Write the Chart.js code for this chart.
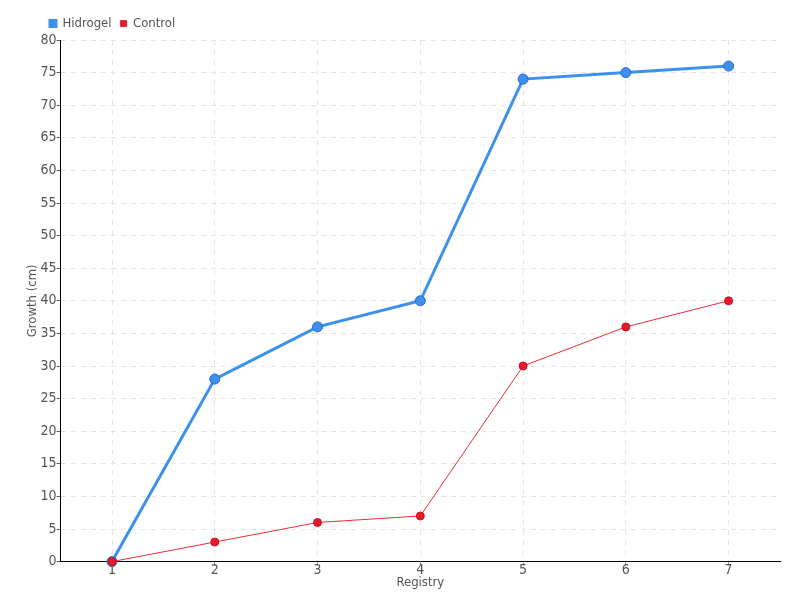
<!DOCTYPE html>
<html>
<head>
<meta charset="utf-8">
<script src="https://cdn.jsdelivr.net/npm/chart.js@4"></script>
<style>
  body { margin: 0; background: #fff; }
</style>
</head>
<body>
<canvas id="chart" width="800" height="600"></canvas>
<script>
// data
const registry = ['1', '2', '3', '4', '5', '6', '7'];
const hidrogel = [0, 28, 36, 40, 74, 75, 76];
const control = [0, 3, 6, 7, 30, 36, 40];

const font = "'DejaVu Sans Condensed', 'Liberation Sans Narrow', sans-serif";
Chart.defaults.font.family = font;
Chart.defaults.color = '#555';

// nudge the legend to the right, like the original
const legendShift = {
  id: 'legendShift',
  afterLayout(chart) {
    chart.legend.left += 16;
  },
};

new Chart(document.getElementById('chart'), {
  type: 'line',
  data: {
    labels: registry,
    datasets: [
      {
        label: 'Hidrogel',
        data: hidrogel,
        borderColor: '#3d90ec',
        backgroundColor: '#3d90ec',
        pointBackgroundColor: '#3d8ff0',
        pointBorderColor: '#2a6cc4',
        pointBorderWidth: 1,
        borderWidth: 3,
        pointRadius: 5,
        tension: 0,
        clip: false,
        order: 2,
      },
      {
        label: 'Control',
        data: control,
        borderColor: '#ee2a3a',
        backgroundColor: '#e8192c',
        pointBackgroundColor: '#e8192c',
        pointBorderColor: '#c81020',
        pointBorderWidth: 1,
        borderWidth: 1,
        pointRadius: 4,
        tension: 0,
        clip: false,
        order: 1,
      },
    ],
  },
  plugins: [legendShift],
  options: {
    responsive: false,
    animation: false,
    devicePixelRatio: 1,
    layout: { padding: { left: 25, right: 20, top: 8, bottom: 10 } },
    plugins: {
      legend: {
        position: 'top',
        align: 'start',
        labels: {
          boxWidth: 6,
          boxHeight: 6,
          padding: 9,
          font: { size: 13 },
          color: '#555',
          sort: (a, b) => a.datasetIndex - b.datasetIndex,
        },
      },
      tooltip: { enabled: false },
    },
    scales: {
      x: {
        offset: true,
        title: { display: true, text: 'Registry', font: { size: 13 }, padding: 0 },
        grid: {
          color: '#e4e4e4',
          tickLength: 4,
          tickColor: '#999',
          offset: false,
        },
        border: { color: '#000', width: 1, dash: [5, 5] },
        ticks: { font: { size: 14 }, padding: -4 },
      },
      y: {
        min: 0,
        max: 80,
        title: { display: true, text: 'Growth (cm)', font: { size: 13 }, padding: 0 },
        grid: {
          color: '#e4e4e4',
          tickLength: 4,
          tickColor: '#555',
        },
        border: { color: '#000', width: 1, dash: [5, 5] },
        ticks: { stepSize: 5, autoSkip: false, font: { size: 14 }, padding: 0 },
      },
    },
  },
});
</script>
</body>
</html>
